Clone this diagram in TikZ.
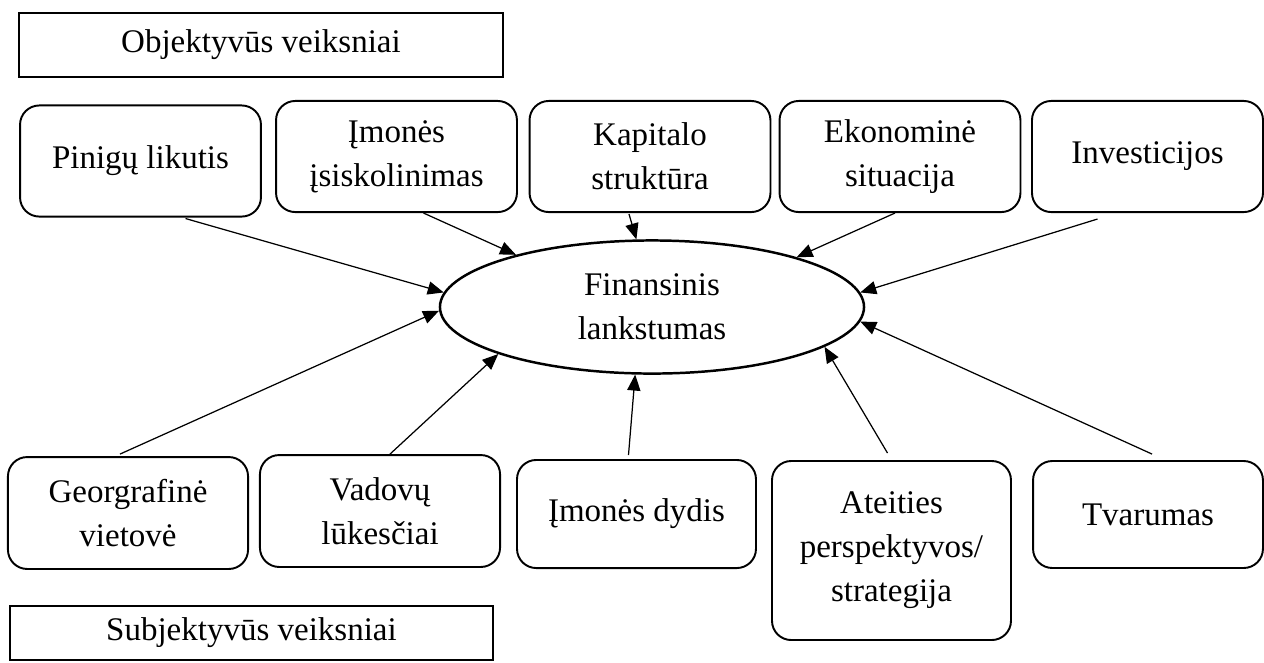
\documentclass[tikz,border=0pt]{standalone}
\usepackage{fontspec}
\setmainfont{Liberation Serif}
\usetikzlibrary{arrows.meta,positioning,calc,shapes.geometric}
\tikzset{
  txt/.style={align=center, inner sep=0pt, font=\fontsize{12}{16}\selectfont},
  fct/.style={txt, draw, rounded corners=7pt, line width=0.7pt,
      minimum width=87.6pt, minimum height=40.4pt},
  lab/.style={txt, draw, line width=0.7pt},
  core/.style={txt, ellipse, draw, line width=0.9pt,
      minimum width=154.2pt, minimum height=48.4pt},
  infl/.style={-{Triangle[length=5.8pt, width=4.8pt]}, line width=0.45pt},
}
\begin{document}
\begin{tikzpicture}[x=0.3636pt, y=-0.3636pt]
 \useasboundingbox (0,0) rectangle (1264,662);
 % group labels
 \node[lab, minimum width=176pt, minimum height=23.3pt] (obj) at (261,45) {Objektyvūs veiksniai};
 \node[lab, minimum width=175.6pt, minimum height=19.6pt] (sub) at (251.5,633) {Subjektyvūs veiksniai};
 % centre
 \node[core] (fin) at (652,307) {Finansinis\\lankstumas};
 % objective factors
 \node[fct] (pin) at (140.5,161) {Pinigų likutis};
 \node[fct] (imo) at (396.5,156.5) {Įmonės\\įsiskolinimas};
 \node[fct] (kap) at (650,156.5) {Kapitalo\\struktūra};
 \node[fct] (eko) at (900,156.5) {Ekonominė\\situacija};
 \node[fct, minimum width=84pt] (inv) at (1147.5,156.5) {Investicijos};
 % subjective factors
 \node[fct, minimum width=87.3pt, minimum height=40.7pt] (geo) at (128,513) {Georgrafinė\\vietovė};
 \node[fct, minimum width=87.3pt, minimum height=40.7pt] (vad) at (380,511) {Vadovų\\lūkesčiai};
 \node[fct, minimum width=86.9pt, minimum height=39.3pt] (dyd) at (636.5,514) {Įmonės dydis};
 \node[fct, minimum width=86.9pt, minimum height=65.1pt] (ate) at (891.5,550.5) {Ateities\\perspektyvos/\\strategija};
 \node[fct, minimum width=83.6pt, minimum height=38.9pt] (tva) at (1148,514.5) {Tvarumas};
 % arrows into the ellipse
 \draw[infl] ($(pin.south)+(45,1)$) -- (fin.176);
 \draw[infl] ($(imo.south)+(27,0)$) -- (fin.159);
 \draw[infl] ($(kap.south)+(-21,1)$) -- (fin.103);
 \draw[infl] ($(eko.south)+(-5,0)$) -- (fin.19);
 \draw[infl] ($(inv.south)+(-50,6)$) -- (fin.4);
 \draw[infl] ($(geo.north)+(-8,-2)$) -- (fin.181);
 \draw[infl] ($(vad.north)+(10,0)$) -- (fin.197);
 \draw[infl] ($(dyd.north)+(-8,-4)$) -- (fin.256);
 \draw[infl] ($(ate.north)+(-4,-7)$) -- (fin.347);
 \draw[infl] ($(tva.north)+(4,-6)$) -- (fin.356);
\end{tikzpicture}
\end{document}
